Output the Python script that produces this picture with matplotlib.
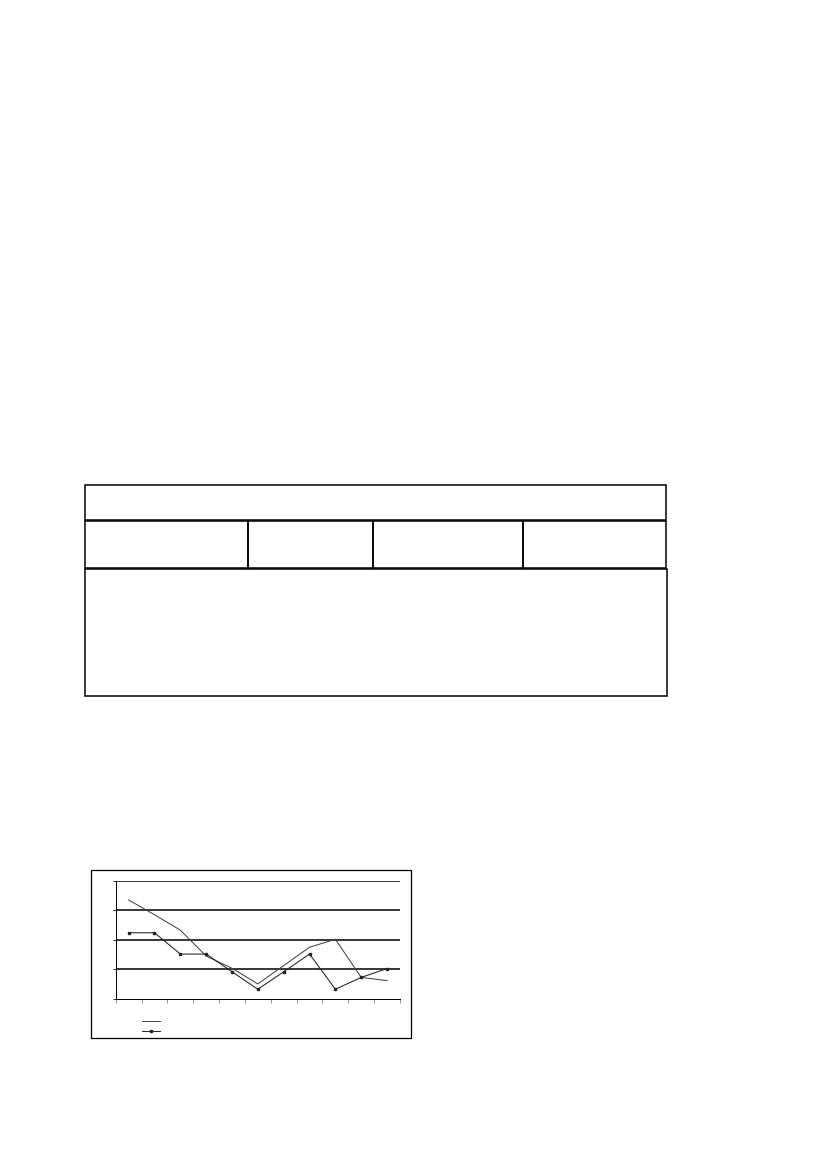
import matplotlib
matplotlib.use("Agg")
import matplotlib.pyplot as plt
from matplotlib.patches import Rectangle

# data (units = gridline steps)
months = list(range(11))
serie_a = [3.35, 2.85, 2.33, 1.45, 1.04, 0.51, 1.13, 1.75, 2.02, 0.73, 0.62]
serie_b = [2.24, 2.24, 1.52, 1.52, 0.92, 0.33, 0.92, 1.52, 0.33, 0.73, 1.03]

# table cell borders (page pixels)
col_edges = [85, 248, 373, 523, 666]
row_top = (485, 520)
row_head = (521, 568)
row_body = (569, 696)

W, H = 827, 1169
fig = plt.figure(figsize=(W / 100, H / 100), dpi=100)

# page layer in pixel coordinates
page = fig.add_axes([0, 0, 1, 1])
page.set_xlim(0, W)
page.set_ylim(H, 0)
page.axis("off")

lw_tab = 1.1
page.add_patch(Rectangle((col_edges[0], row_top[0]), col_edges[-1] - col_edges[0],
                         row_top[1] - row_top[0], fill=False, lw=lw_tab, ec="black"))
for i in range(len(col_edges) - 1):
    page.add_patch(Rectangle((col_edges[i], row_head[0]), col_edges[i + 1] - col_edges[i],
                             row_head[1] - row_head[0], fill=False, lw=lw_tab, ec="black"))
page.add_patch(Rectangle((col_edges[0], row_body[0]), col_edges[-1] + 1 - col_edges[0],
                         row_body[1] - row_body[0], fill=False, lw=lw_tab, ec="black"))

# chart frame
page.add_patch(Rectangle((91, 870), 320, 168, fill=False, lw=0.9, ec="black"))

# legend keys
page.plot([142, 160], [1021, 1021], color="#444444", lw=0.7)
page.plot([142, 160], [1031, 1031], color="#222222", lw=0.7)
page.plot([151], [1031], marker="s", ms=1.5, color="#222222")

# line chart
ax = fig.add_axes([115.7 / W, 1 - 999 / H, (400 - 115.7) / W, (999 - 880.7) / H])
ax.set_xlim(-0.5, 10.5)
ax.set_ylim(0, 4)
for y in [1, 2, 3, 4]:
    ax.axhline(y, color="black", lw=1.1, zorder=1)
ax.plot(months, serie_a, color="#444444", lw=0.75, zorder=3)
ax.plot(months, serie_b, color="#222222", lw=0.75, marker="s", ms=1.5, zorder=3)

ax.set_xticks([x - 0.5 for x in range(12)])
ax.set_yticks(range(5))
ax.set_xticklabels([])
ax.set_yticklabels([])
ax.tick_params(axis="x", direction="out", length=3, width=0.5, color="#666666")
ax.tick_params(axis="y", direction="out", length=2, width=0.6)
for s in ["top", "right"]:
    ax.spines[s].set_visible(False)
ax.spines["left"].set_linewidth(0.7)
ax.spines["bottom"].set_linewidth(0.7)
ax.patch.set_alpha(0)

fig.savefig("out.png", dpi=100)
